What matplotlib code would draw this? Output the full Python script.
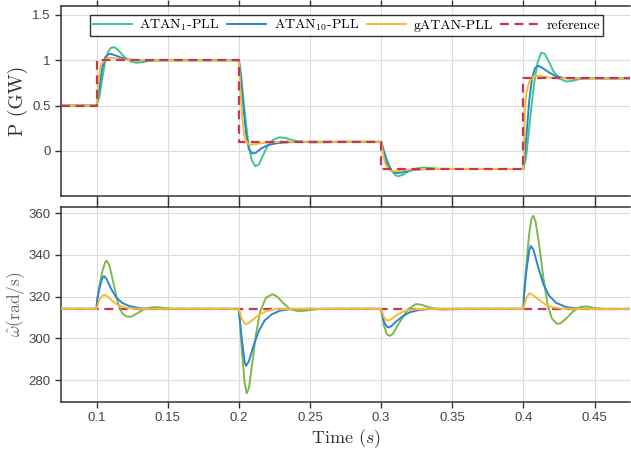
import matplotlib
matplotlib.use("Agg")
import matplotlib.pyplot as plt

plt.rcParams["mathtext.fontset"] = "cm"

# reference power (step)
t_ref = [0.075, 0.1, 0.1, 0.2, 0.2, 0.3, 0.3, 0.4, 0.4, 0.475]
p_ref = [0.5, 0.5, 1.0, 1.0, 0.1, 0.1, -0.2, -0.2, 0.8, 0.8]

# ATAN1-PLL power
t_p1 = [0.075, 0.1, 0.102, 0.104, 0.106, 0.108, 0.110, 0.112, 0.114, 0.117, 0.120, 0.124, 0.128, 0.132, 0.136, 0.14, 0.15,
        0.2, 0.2015, 0.203, 0.205, 0.207, 0.209, 0.2115, 0.214, 0.217, 0.220, 0.224, 0.228, 0.232, 0.236, 0.24, 0.246, 0.252, 0.26, 0.27,
        0.3, 0.302, 0.304, 0.307, 0.31, 0.312, 0.315, 0.32, 0.325, 0.33, 0.335, 0.34, 0.35,
        0.4, 0.402, 0.404, 0.406, 0.408, 0.410, 0.4125, 0.415, 0.418, 0.421, 0.425, 0.43, 0.435, 0.44, 0.445, 0.455, 0.475]
p_1 = [0.5, 0.5, 0.6, 0.8, 0.98, 1.09, 1.135, 1.145, 1.13, 1.08, 1.03, 0.985, 0.972, 0.978, 0.99, 0.998, 1.0,
       1.0, 0.85, 0.6, 0.3, 0.05, -0.1, -0.17, -0.15, -0.05, 0.05, 0.12, 0.148, 0.145, 0.125, 0.11, 0.098, 0.093, 0.095, 0.1,
       0.1, 0.0, -0.1, -0.21, -0.27, -0.28, -0.265, -0.22, -0.195, -0.185, -0.19, -0.198, -0.2,
       -0.2, -0.05, 0.25, 0.55, 0.8, 0.98, 1.085, 1.07, 0.98, 0.88, 0.8, 0.765, 0.775, 0.795, 0.802, 0.8, 0.8]

# ATAN10-PLL power
t_p10 = [0.075, 0.1, 0.102, 0.104, 0.106, 0.108, 0.110, 0.113, 0.117, 0.122, 0.128, 0.135, 0.145,
         0.2, 0.2015, 0.203, 0.205, 0.207, 0.2095, 0.212, 0.216, 0.22, 0.225, 0.23, 0.235, 0.245,
         0.3, 0.302, 0.304, 0.307, 0.3105, 0.314, 0.318, 0.323, 0.33, 0.34,
         0.4, 0.402, 0.404, 0.406, 0.408, 0.410, 0.413, 0.417, 0.422, 0.428, 0.435, 0.475]
p_10 = [0.5, 0.5, 0.7, 0.92, 1.03, 1.065, 1.07, 1.055, 1.03, 1.01, 1.0, 0.995, 1.0,
        1.0, 0.8, 0.5, 0.2, 0.02, -0.03, -0.02, 0.03, 0.06, 0.08, 0.09, 0.095, 0.1,
        0.1, -0.02, -0.13, -0.22, -0.245, -0.24, -0.225, -0.21, -0.202, -0.2,
        -0.2, 0.15, 0.55, 0.8, 0.91, 0.94, 0.92, 0.875, 0.83, 0.805, 0.8, 0.8]

# gATAN-PLL power
t_pg = [0.075, 0.1, 0.1015, 0.103, 0.106, 0.109, 0.112, 0.117, 0.125,
        0.2, 0.201, 0.2025, 0.204, 0.206, 0.208, 0.212, 0.217, 0.222, 0.23,
        0.3, 0.3015, 0.303, 0.306, 0.309, 0.313, 0.318, 0.325,
        0.4, 0.401, 0.402, 0.404, 0.407, 0.41, 0.414, 0.42, 0.43, 0.475]
p_g = [0.5, 0.5, 0.8, 0.95, 1.01, 1.03, 1.025, 1.01, 1.0,
       1.0, 0.7, 0.35, 0.15, 0.08, 0.068, 0.075, 0.088, 0.096, 0.1,
       0.1, -0.05, -0.15, -0.21, -0.225, -0.22, -0.21, -0.2,
       -0.2, 0.45, 0.63, 0.76, 0.82, 0.83, 0.82, 0.805, 0.8, 0.8]

# reference angular frequency
t_wref = [0.075, 0.475]
w_ref = [314.16, 314.16]

# ATAN1-PLL frequency
t_w1 = [0.075, 0.1, 0.1003, 0.102, 0.104, 0.106, 0.107, 0.109, 0.112, 0.115, 0.118, 0.121, 0.124, 0.128, 0.133, 0.138, 0.142, 0.147, 0.155,
        0.2, 0.2005, 0.202, 0.204, 0.2055, 0.207, 0.209, 0.212, 0.215, 0.219, 0.2235, 0.227, 0.231, 0.236, 0.242, 0.248, 0.255, 0.262,
        0.3, 0.3005, 0.302, 0.304, 0.306, 0.308, 0.311, 0.315, 0.319, 0.3245, 0.329, 0.334, 0.34, 0.345, 0.355,
        0.4, 0.4003, 0.402, 0.404, 0.4055, 0.407, 0.4085, 0.411, 0.414, 0.417, 0.42, 0.4235, 0.426, 0.43, 0.435, 0.4405, 0.445, 0.45, 0.458, 0.475]
w_1 = [314.16, 314.16, 318, 325, 332, 336.5, 337.3, 335, 326, 317, 312, 310.5, 310.3, 311.8, 313.8, 314.8, 315.0, 314.6, 314.16,
       314.16, 310, 295, 279, 273.7, 276, 286, 302, 313, 319.5, 321.2, 320, 317, 314, 313, 313.4, 314, 314.16,
       314.16, 312, 306, 302, 301.2, 302, 305.5, 310, 314, 316.5, 316, 314.8, 314, 313.8, 314.16,
       314.16, 320, 335, 350, 357, 358.8, 356, 345, 329, 316, 309.5, 307, 307.2, 309.5, 313, 315.2, 315.3, 314.5, 314, 314.16]

# ATAN10-PLL frequency
t_w10 = [0.075, 0.1, 0.1003, 0.102, 0.104, 0.1052, 0.107, 0.11, 0.114, 0.118, 0.123, 0.13, 0.14,
         0.2, 0.2005, 0.202, 0.204, 0.205, 0.207, 0.21, 0.214, 0.218, 0.223, 0.229, 0.236, 0.245,
         0.3, 0.3005, 0.302, 0.304, 0.3052, 0.307, 0.31, 0.315, 0.32, 0.327, 0.335,
         0.4, 0.4003, 0.402, 0.404, 0.4052, 0.407, 0.41, 0.414, 0.418, 0.423, 0.43, 0.438, 0.445, 0.475]
w_10 = [314.16, 314.16, 318, 324, 329, 329.9, 328.5, 324, 319.5, 317, 315.5, 314.5, 314.16,
        314.16, 310, 300, 289, 286.8, 289, 296, 303.5, 308.5, 311.5, 313.3, 314, 314.16,
        314.16, 312, 308, 305.6, 305.3, 305.8, 307.8, 310.5, 312.5, 313.7, 314.16,
        314.16, 320, 332, 342, 344.3, 342.5, 335, 326, 320.5, 317, 315, 314.3, 314.16, 314.16]

# gATAN-PLL frequency
t_wg = [0.075, 0.1, 0.102, 0.104, 0.106, 0.108, 0.111, 0.115, 0.12, 0.127,
        0.2, 0.202, 0.204, 0.205, 0.207, 0.21, 0.214, 0.219, 0.225, 0.235,
        0.3, 0.302, 0.304, 0.3046, 0.307, 0.311, 0.316, 0.322, 0.33,
        0.4, 0.402, 0.404, 0.4045, 0.407, 0.41, 0.415, 0.42, 0.427, 0.435, 0.475]
w_g = [314.16, 314.16, 318.5, 320.5, 320.8, 320, 318, 316, 314.8, 314.2,
       314.16, 309.5, 307.2, 306.9, 307.3, 309, 311.2, 313, 313.9, 314.16,
       314.16, 310, 308.6, 308.5, 309.2, 311.2, 313, 313.9, 314.16,
       314.16, 319.5, 321.4, 321.6, 320.6, 319, 316.5, 315, 314.3, 314.16, 314.16]

green_top = "#3fc78a"
green_bot = "#7fb84a"
blue = "#2a86d0"
yellow = "#f7bb35"
red = "#c8374f"

fig = plt.figure(figsize=(6.31, 4.53), dpi=100)
ax1 = fig.add_axes([0.0967, 0.567, 0.902, 0.42])
ax2 = fig.add_axes([0.0967, 0.1126, 0.902, 0.4305])

lw = 1.4
ax1.plot(t_p1, p_1, color=green_top, lw=lw, label=r"ATAN$_1$-PLL")
ax1.plot(t_p10, p_10, color=blue, lw=lw, label=r"ATAN$_{10}$-PLL")
ax1.plot(t_pg, p_g, color=yellow, lw=lw, label="gATAN-PLL")
ax1.plot(t_ref, p_ref, color=red, lw=1.6, ls=(0, (4, 2.5)), label="reference", zorder=5)

ax2.plot(t_wref, w_ref, color=red, lw=1.6, ls=(0, (4, 2.5)), zorder=1)
ax2.plot(t_w1, w_1, color=green_bot, lw=lw, zorder=2)
ax2.plot(t_w10, w_10, color=blue, lw=lw, zorder=3)
ax2.plot(t_wg, w_g, color=yellow, lw=lw, zorder=4)

ax1.set_xlim(0.075, 0.475)
ax1.set_ylim(-0.5, 1.6)
ax1.set_yticks([0, 0.5, 1, 1.5])
ax1.set_yticklabels(["0", "0.5", "1", "1.5"])
ax2.set_xlim(0.075, 0.475)
ax2.set_ylim(269.5, 363)
ax2.set_yticks([280, 300, 320, 340, 360])

xt = [0.1, 0.15, 0.2, 0.25, 0.3, 0.35, 0.4, 0.45]
for ax in (ax1, ax2):
    ax.set_xticks(xt)
    ax.grid(True, color="#dcdcdc", lw=0.8)
    ax.set_axisbelow(True)
    ax.tick_params(direction="out", length=4, width=1, color="#333333",
                   labelcolor="#444444", labelsize=9.5, top=True, right=False)
    for s in ax.spines.values():
        s.set_color("#333333")
        s.set_linewidth(1.1)
    ax.spines["right"].set_visible(False)
ax1.tick_params(labelbottom=False)
ax2.set_xticklabels(["0.1", "0.15", "0.2", "0.25", "0.3", "0.35", "0.4", "0.45"])
for ax in (ax1, ax2):
    for lab in ax.get_xticklabels() + ax.get_yticklabels():
        lab.set_fontfamily("Liberation Sans")

ax1.set_ylabel("P (GW)", family="cmr10", fontsize=14, color="#333333", labelpad=3)
ax2.set_ylabel(r"$\hat{\omega}(\mathrm{rad/s})$", fontsize=12.5, color="#666666", labelpad=1)
ax2.set_xlabel(r"Time $(s)$", family="cmr10", fontsize=13, color="#333333", labelpad=2)

leg = ax1.legend(loc="upper center", bbox_to_anchor=(0.502, 0.953), ncol=4,
                 prop={"family": "cmr10", "size": 10}, frameon=True, fancybox=False,
                 edgecolor="black", handlelength=2.8, columnspacing=0.55,
                 handletextpad=0.55, borderpad=0.2, borderaxespad=0)
leg.get_frame().set_linewidth(1.0)

fig.savefig("out.png", dpi=100)
